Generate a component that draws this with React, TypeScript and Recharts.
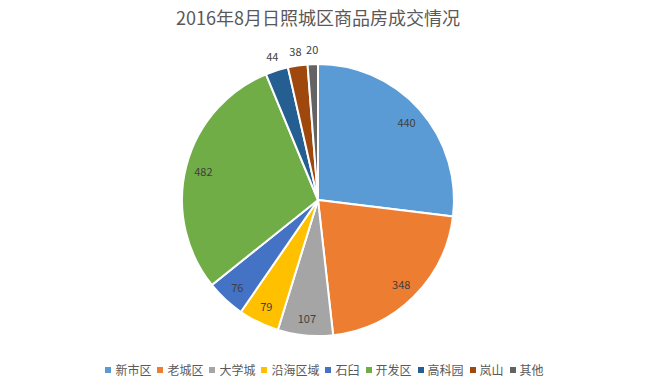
import React from 'react';
import { PieChart, Pie, Cell, Legend } from 'recharts';

const categories = ['新市区', '老城区', '大学城', '沿海区域', '石臼', '开发区', '高科园', '岚山', '其他'];
const values = [440, 348, 107, 79, 76, 482, 44, 38, 20];
const colors = ['#5B9BD5', '#ED7D31', '#A5A5A5', '#FFC000', '#4472C4', '#70AD47', '#255E91', '#9E480E', '#636363'];
const title = '2016年8月日照城区商品房成交情况';

const data = categories.map((name, i) => ({ name, value: values[i] }));
const total = values.reduce((a, b) => a + b, 0);
const RAD = Math.PI / 180;
const FONT = '"Noto Sans CJK SC", "Noto Sans", sans-serif';

const renderLabel = (props: any) => {
  const { cx, cy, midAngle, outerRadius, value } = props;
  const outside = value / total < 0.035;
  const r = outside ? outerRadius + 15 : outerRadius * 0.87;
  const x = cx + r * Math.cos(-midAngle * RAD);
  const y = cy + r * Math.sin(-midAngle * RAD);
  return (
    <text x={x} y={y} fill="#404040" fontSize={11} fontFamily={FONT} textAnchor="middle" dominantBaseline="central">
      {value}
    </text>
  );
};

const renderLegend = () => (
  <div style={{ display: 'flex', justifyContent: 'center', alignItems: 'center', fontFamily: FONT, fontSize: 12, color: '#595959', lineHeight: '16px' }}>
    {data.map((d, i) => (
      <div key={d.name} style={{ display: 'flex', alignItems: 'center', marginRight: i < data.length - 1 ? 6 : 0 }}>
        <span style={{ display: 'inline-block', width: 6, height: 6, background: colors[i], marginRight: 4 }} />
        <span>{d.name}</span>
      </div>
    ))}
  </div>
);

export default function App() {
  return (
    <div style={{ position: 'absolute', left: 0, top: 0, width: 649, height: 382, background: '#fff' }}>
      <div style={{ position: 'absolute', left: 0, top: 4, width: 636, textAlign: 'center', fontFamily: FONT, fontSize: 18, color: '#595959' }}>
        {title}
      </div>
      <PieChart width={649} height={382} margin={{ top: 0, right: 0, bottom: 0, left: 0 }}>
        <Pie
          data={data}
          dataKey="value"
          nameKey="name"
          cx={318}
          cy={200}
          outerRadius={136}
          startAngle={90}
          endAngle={-270}
          stroke="#ffffff"
          strokeWidth={2}
          label={renderLabel}
          labelLine={false}
          isAnimationActive={false}
        >
          {data.map((d, i) => (
            <Cell key={d.name} fill={colors[i]} />
          ))}
        </Pie>
        <Legend content={renderLegend} wrapperStyle={{ position: 'absolute', left: 0, top: 362, width: 649 }} />
      </PieChart>
    </div>
  );
}
